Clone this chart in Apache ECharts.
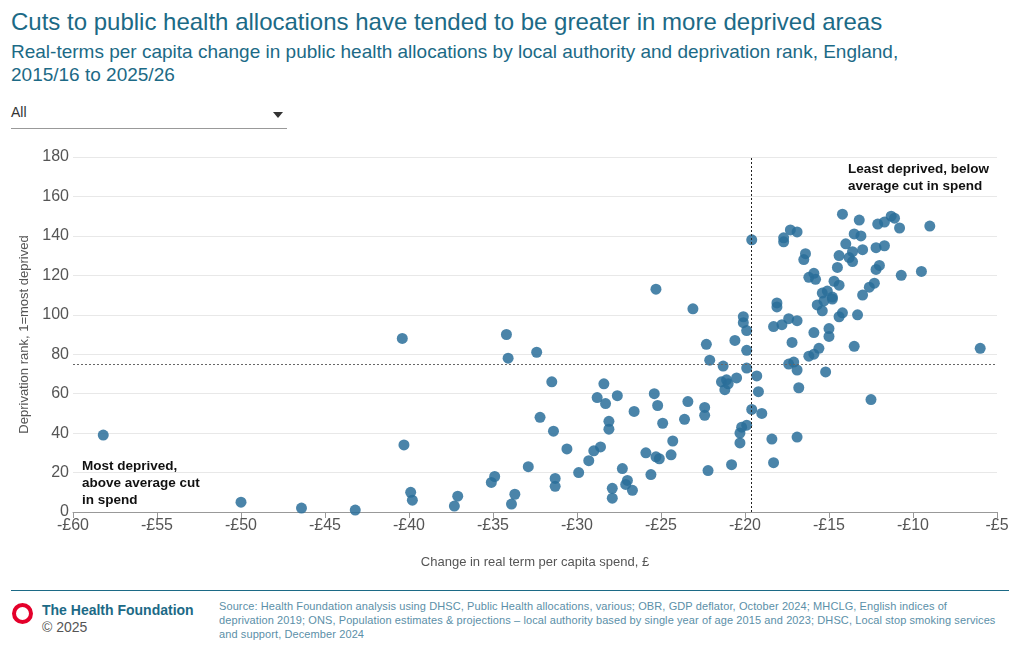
<!DOCTYPE html>
<html>
<head>
<meta charset="utf-8">
<script src="https://cdn.jsdelivr.net/npm/echarts@6/dist/echarts.min.js"></script>
<style>
  body { margin: 0; width: 1020px; height: 650px; font-family: "Liberation Sans", Arial, sans-serif; background: #fff; position: relative; overflow: hidden; }
  .title { position: absolute; left: 11px; top: 8px; font-size: 24px; color: #1c6a86; }
  .sub { position: absolute; left: 11px; top: 40px; font-size: 19px; line-height: 23px; color: #1c6a86; width: 960px; }
  .dd { position: absolute; left: 11px; top: 104px; width: 276px; height: 24px; border-bottom: 1px solid #999; font-size: 14px; color: #333; }
  .dd:after { content: ""; position: absolute; right: 4px; top: 8px; border: 5px solid transparent; border-top: 6px solid #333; }
  .chart { position: absolute; left: 0; top: 140px; width: 1020px; height: 440px; }
  .rule { position: absolute; left: 11px; right: 11px; top: 590px; border-top: 1px solid #1c6a86; }
  .logo { position: absolute; left: 12px; top: 603px; width: 13px; height: 13px; border: 4px solid #e4002b; border-radius: 50%; }
  .org { position: absolute; left: 42px; top: 602px; font-size: 14px; color: #1c6a86; font-weight: bold; line-height: 17px; }
  .org span { font-weight: normal; color: #555; }
  .src { position: absolute; left: 219px; top: 599px; width: 785px; font-size: 11px; letter-spacing: 0.1px; line-height: 14px; color: #5b8fa8; }
</style>
</head>
<body>
<div class="title">Cuts to public health allocations have tended to be greater in more deprived areas</div>
<div class="sub">Real-terms per capita change in public health allocations by local authority and deprivation rank, England, 2015/16 to 2025/26</div>
<div class="dd">All</div>
<div class="chart" id="main"></div>
<div class="rule"></div>
<div class="logo"></div>
<div class="org">The Health Foundation<br><span>© 2025</span></div>
<div class="src">Source: Health Foundation analysis using DHSC, Public Health allocations, various; OBR, GDP deflator, October 2024; MHCLG, English indices of deprivation 2019; ONS, Population estimates &amp; projections – local authority based by single year of age 2015 and 2023; DHSC, Local stop smoking services and support, December 2024</div>
<script>
// change in real-terms per capita spend (£)
var spendChange = [
  -58.2,-50,-46.4,-43.2,-40.4,-40.3,-39.9,-39.8,-37.3,-37.1,-35.1,-34.9,-34.2,-34.1,-33.9,-33.7,-32.9,-32.4,-32.2,-31.5,
  -31.4,-31.3,-31.3,-30.6,-29.9,-29.3,-29,-28.8,-28.6,-28.4,-28.3,-28.1,-28.1,-27.9,-27.9,-27.6,-27.3,-27.1,-27,-26.7,
  -26.6,-25.9,-25.6,-25.4,-25.3,-25.3,-25.2,-25.1,-24.9,-24.3,-24.4,-23.6,-23.4,-23.1,-22.4,-22.4,-22.3,-22.2,-22.1,-21.4,
  -21.3,-21.2,-21.1,-21,-20.8,-20.6,-20.5,-20.3,-20.3,-20.2,-20.1,-20.1,-19.9,-19.9,-19.9,-19.9,-19.6,-19.6,-19.3,-19.2,
  -19,-18.4,-18.3,-17.3,-16.9,-17.7,-17.7,-16.4,-16.5,-14.2,-13.2,-13.5,-13.1,-14,-14.4,-13.8,-13.6,-13.6,-13,-14.5,
  -12.1,-11.7,-11.3,-11.1,-10.8,-9,-12.2,-11.7,-12,-12.2,-10.7,-9.5,-12.3,-12.6,-13,-13.3,-13.5,-6,-14.7,-14.4,
  -15.1,-15.4,-14.8,-14.8,-15.3,-15.7,-15.4,-14.2,-14.4,-15.9,-16.2,-15.8,-18.1,-18.1,-18.3,-17.8,-17.4,-16.9,-15.9,-15,
  -15,-17.2,-15.6,-15.9,-16.2,-17.4,-17.1,-16.9,-15.2,-16.8,-12.5,-16.9
];
// deprivation rank (1 = most deprived)
var deprivationRank = [
  39,5,2,1,88,34,10,6,3,8,15,18,90,78,4,9,23,81,48,66,
  41,17,13,32,20,26,31,58,33,65,55,46,42,12,7,59,22,14,16,11,
  51,30,19,60,28,113,54,27,45,36,29,47,56,103,49,53,85,21,77,66,
  74,62,67,65,24,87,68,40,35,43,99,96,92,82,73,44,138,52,69,61,
  50,37,25,143,142,139,137,131,128,151,148,141,140,136,130,129,132,127,133,124,
  146,147,150,149,144,145,134,135,125,123,120,122,116,114,110,100,84,83,117,115,
  112,111,109,108,107,105,102,101,99,121,119,118,106,104,94,95,98,97,91,93,
  89,86,83,80,79,75,76,72,71,63,57,38
];
var xTicks = [-60,-55,-50,-45,-40,-35,-30,-25,-20,-15,-10,-5];
var avgCut = -19.6;
var avgRank = 75;

var points = spendChange.map(function (x, i) { return [x, deprivationRank[i]]; });

var chart = echarts.init(document.getElementById('main'));
var font = '"Liberation Sans", Arial, sans-serif';
chart.setOption({
  animation: false,
  grid: { left: 73, right: 23, top: 17, bottom: 68 },
  xAxis: {
    type: 'value', min: -60, max: -5, interval: 5,
    name: 'Change in real term per capita spend, £', nameLocation: 'middle', nameGap: 44,
    nameTextStyle: { color: '#555', fontSize: 13, fontFamily: font },
    axisLine: { lineStyle: { color: '#999' } },
    axisTick: { show: true, length: 6, lineStyle: { color: '#999' } },
    splitLine: { show: false },
    axisLabel: { color: '#555', fontSize: 16, fontFamily: font, margin: 6,
      formatter: function (v) { return '-£' + Math.abs(v); } }
  },
  yAxis: {
    type: 'value', min: 0, max: 180, interval: 20,
    name: 'Deprivation rank, 1=most deprived', nameLocation: 'middle', nameGap: 42,
    nameTextStyle: { color: '#555', fontSize: 13, fontFamily: font },
    axisLine: { show: false }, axisTick: { show: false },
    splitLine: { lineStyle: { color: '#e8e8e8' } },
    axisLabel: { color: '#555', fontSize: 16, fontFamily: font, margin: 4 }
  },
  series: [{
    type: 'scatter', data: points, symbolSize: 11,
    itemStyle: { color: '#2a6f9a', opacity: 0.85 },
    markLine: {
      silent: true, symbol: 'none', label: { show: false },
      data: [
        { xAxis: avgCut, lineStyle: { color: '#222', type: [2, 2], width: 1 } },
        { yAxis: avgRank, lineStyle: { color: '#666', type: [2, 2], width: 1 } }
      ]
    }
  }],
  graphic: [
    { type: 'text', left: 82, top: 318, style: { text: 'Most deprived,\nabove average cut\nin spend', fill: '#111', font: 'bold 13.5px ' + font, lineHeight: 17 } },
    { type: 'text', right: 31, top: 21, style: { text: 'Least deprived, below\naverage cut in spend', fill: '#111', font: 'bold 13.5px ' + font, lineHeight: 17, align: 'right' } }
  ]
});
</script>
</body>
</html>
